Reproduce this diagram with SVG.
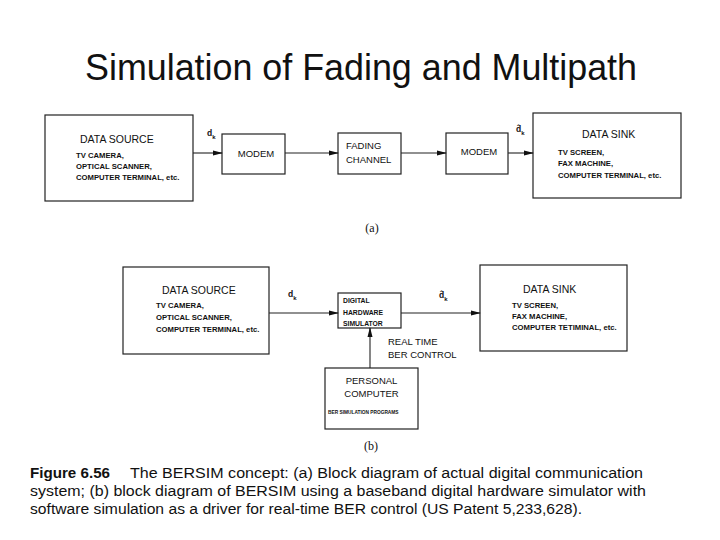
<svg xmlns="http://www.w3.org/2000/svg" width="720" height="540" viewBox="0 0 720 540">
<style>
.box{fill:#fff;stroke:#222;stroke-width:1.2}
.t{font-family:"Liberation Sans",Arial,sans-serif;fill:#111}
.h{font-size:10.5px}
.s{font-size:7.7px;font-weight:bold}
.m{font-size:9.5px}
.conn line{stroke:#222;stroke-width:1.1}
</style>
<defs>
<marker id="ah" markerWidth="10" markerHeight="6" refX="9" refY="3" orient="auto" markerUnits="userSpaceOnUse">
<path d="M0,0.5 L10,3 L0,5.5 Z" fill="#111"/>
</marker>
</defs>
<rect width="720" height="540" fill="#fff"/>
<text class="t" x="85" y="80" font-size="36" textLength="552" lengthAdjust="spacingAndGlyphs">Simulation of Fading and Multipath</text>

<!-- (a) -->
<g id="a-source">
<rect class="box" x="45" y="115" width="148" height="86"/>
<text class="t h" x="80" y="143">DATA SOURCE</text>
<text class="t s" x="76" y="158">TV CAMERA,</text>
<text class="t s" x="76" y="169">OPTICAL SCANNER,</text>
<text class="t s" x="76" y="180">COMPUTER TERMINAL, etc.</text>
</g>
<g id="a-modem1">
<rect class="box" x="222" y="134" width="63" height="40"/>
<text class="t m" x="256" y="157" text-anchor="middle">MODEM</text>
</g>
<g id="a-fading">
<rect class="box" x="338" y="133" width="63" height="41"/>
<text class="t m" x="346" y="149">FADING</text>
<text class="t m" x="346" y="163">CHANNEL</text>
</g>
<g id="a-modem2">
<rect class="box" x="446" y="133" width="62" height="41"/>
<text class="t m" x="479" y="155" text-anchor="middle">MODEM</text>
</g>
<g id="a-sink">
<rect class="box" x="533" y="113" width="148" height="85"/>
<text class="t h" x="582" y="138">DATA SINK</text>
<text class="t s" x="558" y="155">TV SCREEN,</text>
<text class="t s" x="558" y="166">FAX MACHINE,</text>
<text class="t s" x="558" y="178">COMPUTER TERMINAL, etc.</text>
</g>
<text class="t" x="207" y="136" font-size="8.5" font-weight="bold">d<tspan font-size="6" dy="3">k</tspan></text>
<text class="t" x="516" y="132" font-size="8.5" font-weight="bold">d̂<tspan font-size="6" dy="3">k</tspan></text>
<text x="372" y="232" font-family="Liberation Serif,serif" font-size="12" text-anchor="middle" fill="#111">(a)</text>

<!-- (b) -->
<g id="b-source">
<rect class="box" x="123" y="267" width="146" height="87"/>
<text class="t h" x="162" y="294">DATA SOURCE</text>
<text class="t s" x="156" y="308">TV CAMERA,</text>
<text class="t s" x="156" y="320">OPTICAL SCANNER,</text>
<text class="t s" x="156" y="332">COMPUTER TERMINAL, etc.</text>
</g>
<g id="b-simulator">
<rect class="box" x="338" y="293" width="63" height="35"/>
<text class="t" x="343" y="303" font-size="6.8" font-weight="bold">DIGITAL</text>
<text class="t" x="343" y="315" font-size="6.8" font-weight="bold">HARDWARE</text>
<text class="t" x="343" y="326" font-size="6.8" font-weight="bold">SIMULATOR</text>
</g>
<g id="b-sink">
<rect class="box" x="480" y="265" width="147" height="86"/>
<text class="t h" x="523" y="293">DATA SINK</text>
<text class="t s" x="512" y="308">TV SCREEN,</text>
<text class="t s" x="512" y="319">FAX MACHINE,</text>
<text class="t s" x="512" y="330">COMPUTER TETIMINAL, etc.</text>
</g>
<g id="b-pc">
<rect class="box" x="325" y="368" width="93" height="61"/>
<text class="t m" x="371.5" y="384" text-anchor="middle">PERSONAL</text>
<text class="t m" x="371.5" y="397" text-anchor="middle">COMPUTER</text>
<text class="t" x="328" y="414" font-size="4.8" font-weight="bold">BER SIMULATION PROGRAMS</text>
</g>
<text class="t" x="288" y="297" font-size="8.5" font-weight="bold">d<tspan font-size="6" dy="3">k</tspan></text>
<text class="t" x="439" y="298" font-size="8.5" font-weight="bold">d̂<tspan font-size="6" dy="3">k</tspan></text>
<text class="t m" x="388" y="345">REAL TIME</text>
<text class="t m" x="388" y="358">BER CONTROL</text>
<text x="371" y="450" font-family="Liberation Serif,serif" font-size="12" text-anchor="middle" fill="#111">(b)</text>

<g id="connectors" class="conn">
<line x1="193" y1="153" x2="222" y2="153" marker-end="url(#ah)"/>
<line x1="285" y1="153" x2="338" y2="153" marker-end="url(#ah)"/>
<line x1="401" y1="153" x2="446" y2="153" marker-end="url(#ah)"/>
<line x1="508" y1="153" x2="533" y2="153" marker-end="url(#ah)"/>
<line x1="269" y1="313" x2="338" y2="313" marker-end="url(#ah)"/>
<line x1="401" y1="313" x2="480" y2="313" marker-end="url(#ah)"/>
<line x1="370" y1="368" x2="370" y2="328" marker-end="url(#ah)"/>
</g>

<g font-family="Liberation Sans,Arial,sans-serif" font-size="15.5" fill="#111">
<text x="30" y="478" font-weight="bold" textLength="80" lengthAdjust="spacingAndGlyphs">Figure 6.56</text>
<text x="130" y="478" textLength="513" lengthAdjust="spacingAndGlyphs">The BERSIM concept: (a) Block diagram of actual digital communication</text>
<text x="30" y="496" textLength="616" lengthAdjust="spacingAndGlyphs">system; (b) block diagram of BERSIM using a baseband digital hardware simulator with</text>
<text x="30" y="514" textLength="552" lengthAdjust="spacingAndGlyphs">software simulation as a driver for real-time BER control (US Patent 5,233,628).</text>
</g>
</svg>
